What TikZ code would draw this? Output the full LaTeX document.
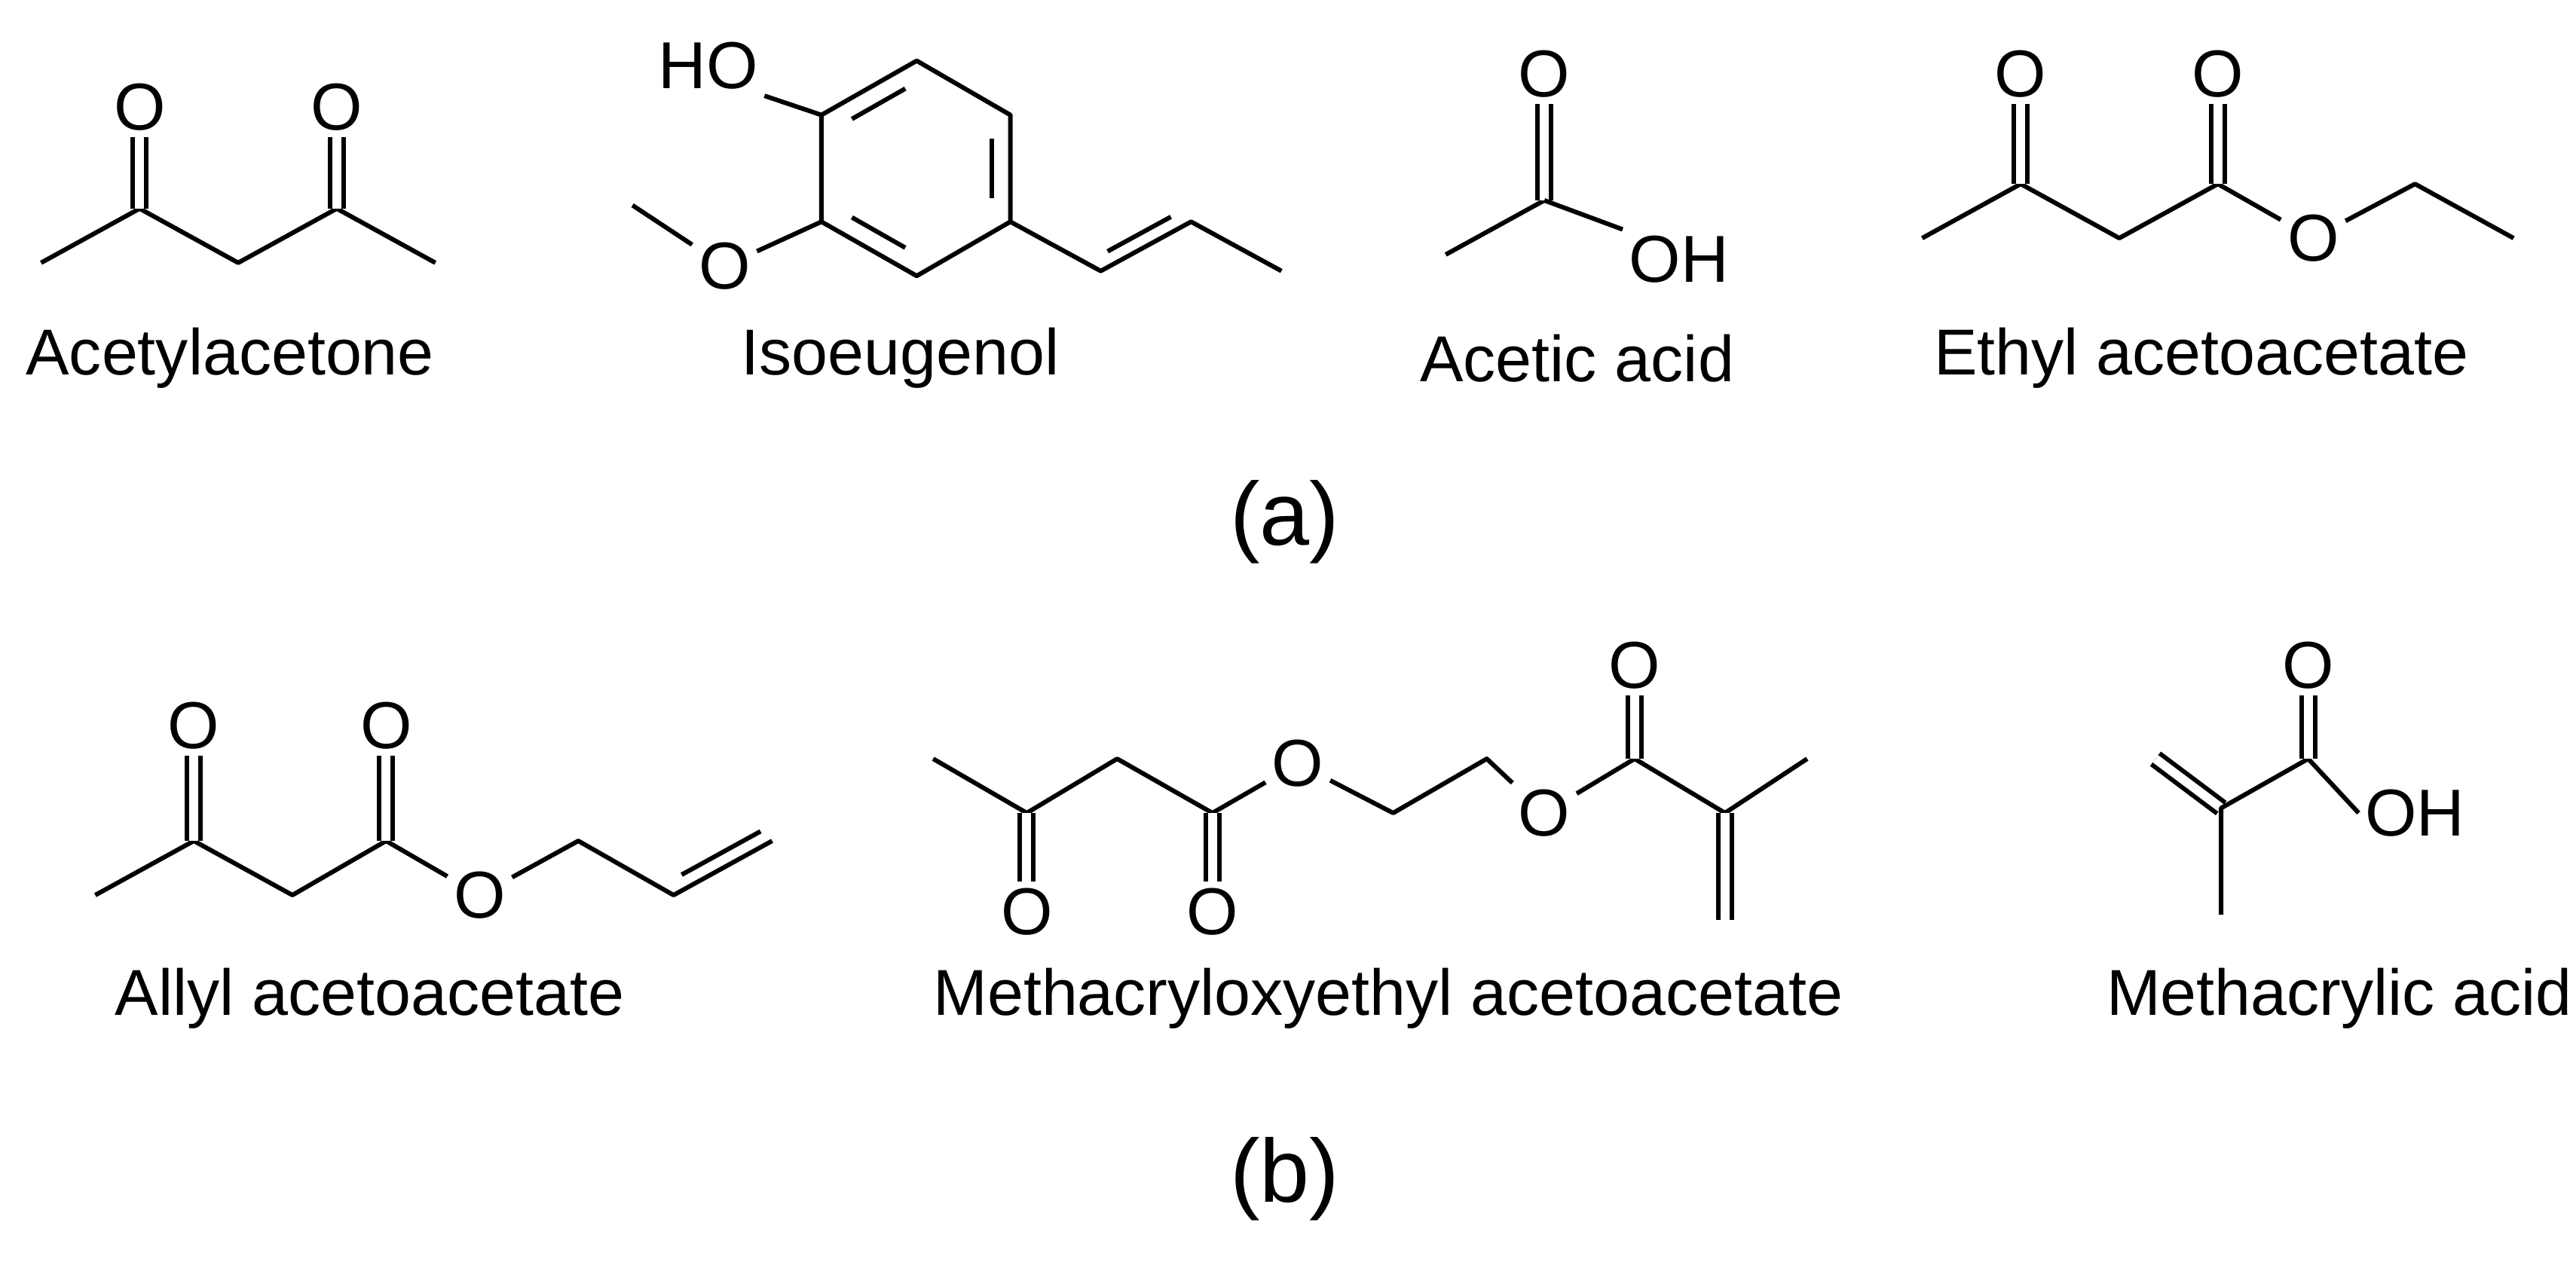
\documentclass[tikz,border=0pt]{standalone}
\usepackage{fontspec}
\setmainfont{Liberation Sans}
\usetikzlibrary{calc}
\begin{document}
\begin{tikzpicture}[x=0.2mm,y=-0.2mm,line width=0.55mm,
  atm/.style={inner sep=1.5pt,font=\fontsize{23}{25}\selectfont},
  nm/.style={font=\fontsize{22.5}{26}\selectfont},
  lab/.style={font=\fontsize{31}{35}\selectfont},
  dbl/.style={double,double distance=1.1mm}]
\useasboundingbox (0,0) rectangle (1568,770);
% Acetylacetone
\coordinate (a1) at (25,160); \coordinate (a2) at (85,127);
\coordinate (a3) at (145,160); \coordinate (a4) at (205,127);
\coordinate (a5) at (265,160);
\node[atm] (ao1) at (85,65) {O}; \node[atm] (ao2) at (205,65) {O};
\draw[line join=round] (a1)--(a2)--(a3)--(a4)--(a5);
\draw[dbl] (a2)--(ao1); \draw[dbl] (a4)--(ao2);
\node[nm] (n1) at (140,218) {Acetylacetone};
% Isoeugenol
\coordinate (r1) at (558,37); \coordinate (r2) at (615,70);
\coordinate (r3) at (615,135); \coordinate (r4) at (558,168);
\coordinate (r5) at (500,135); \coordinate (r6) at (500,70);
\coordinate (rc) at (558,102);
\draw[line join=round] (r1)--(r2)--(r3)--(r4)--(r5)--(r6)--cycle;
\draw ($($(r6)!.15!(r1)$)!.2!(rc)$)--($($(r6)!.85!(r1)$)!.2!(rc)$);
\draw ($($(r2)!.15!(r3)$)!.2!(rc)$)--($($(r2)!.85!(r3)$)!.2!(rc)$);
\draw ($($(r4)!.15!(r5)$)!.2!(rc)$)--($($(r4)!.85!(r5)$)!.2!(rc)$);
\node[atm] (iho) at (431,40) {HO};
\draw (r6)--(iho.south east);
\node[atm] (iom) at (441,162) {O};
\coordinate (ime) at (385,125);
\draw (r5)--(iom)--(ime);
\coordinate (c1) at (670,165); \coordinate (c2) at (725,135); \coordinate (c3) at (780,165);
\draw[line join=round] (r3)--(c1)--(c2)--(c3);
\draw ($($(c1)!.15!(c2)$)!1.7mm!90:(c2)$)--($($(c1)!.85!(c2)$)!1.7mm!90:(c2)$);
\node[nm] (n2) at (548,218) {Isoeugenol};
% Acetic acid
\coordinate (e1) at (880,155); \coordinate (e2) at (940,122);
\node[atm] (eo) at (940,45) {O}; \node[atm] (eoh) at (1022,158) {OH};
\draw (e1)--(e2); \draw[dbl] (e2)--(eo); \draw (e2)--(eoh.north west);
\node[nm] (n3) at (960,218) {Acetic acid};
% Ethyl acetoacetate
\coordinate (f1) at (1170,145); \coordinate (f2) at (1230,112);
\coordinate (f3) at (1290,145); \coordinate (f4) at (1350,112);
\node[atm] (fo3) at (1408,145) {O};
\coordinate (f6) at (1470,112); \coordinate (f7) at (1530,145);
\node[atm] (fo1) at (1230,45) {O}; \node[atm] (fo2) at (1350,45) {O};
\draw[line join=round] (f1)--(f2)--(f3)--(f4)--(fo3)--(f6)--(f7);
\draw[dbl] (f2)--(fo1); \draw[dbl] (f4)--(fo2);
\node[nm] (n4) at (1340,218) {Ethyl acetoacetate};
\node[lab] (la) at (782,318) {(a)};
% Allyl acetoacetate
\coordinate (g1) at (58,545); \coordinate (g2) at (118,512);
\coordinate (g3) at (178,545); \coordinate (g4) at (235,512);
\node[atm] (go3) at (292,545) {O};
\coordinate (g6) at (352,512); \coordinate (g7) at (410,545); \coordinate (g8) at (470,512);
\node[atm] (go1) at (118,442) {O}; \node[atm] (go2) at (235,442) {O};
\draw[line join=round] (g1)--(g2)--(g3)--(g4)--(go3)--(g6)--(g7)--(g8);
\draw ($($(g7)!.15!(g8)$)!1.7mm!90:(g8)$)--($($(g7)!.95!(g8)$)!1.7mm!90:(g8)$);
\draw[dbl] (g2)--(go1); \draw[dbl] (g4)--(go2);
\node[nm] (n5) at (225,608) {Allyl acetoacetate};
% Methacryloxyethyl acetoacetate
\coordinate (h1) at (568,462); \coordinate (h2) at (625,495);
\coordinate (h3) at (680,462); \coordinate (h4) at (738,495);
\node[atm] (ho1) at (790,465) {O};
\coordinate (h6) at (848,495); \coordinate (h7) at (905,462);
\node[atm] (ho2) at (940,495) {O};
\coordinate (h9) at (995,462); \coordinate (h10) at (1050,495);
\coordinate (h11) at (1100,462); \coordinate (h12) at (1050,560);
\node[atm] (hk1) at (625,555) {O}; \node[atm] (hk2) at (738,555) {O};
\node[atm] (hk3) at (995,405) {O};
\draw[line join=round] (h1)--(h2)--(h3)--(h4)--(ho1)--(h6)--(h7)--(ho2)--(h9)--(h10)--(h11);
\draw[dbl] (h2)--(hk1); \draw[dbl] (h4)--(hk2); \draw[dbl] (h9)--(hk3);
\draw[dbl] (h10)--(h12);
\node[nm] (n6) at (845,608) {Methacryloxyethyl acetoacetate};
% Methacrylic acid
\coordinate (m1) at (1312,462); \coordinate (m2) at (1352,492);
\coordinate (m3) at (1352,557); \coordinate (m4) at (1405,462);
\node[atm] (mo) at (1405,405) {O}; \node[atm] (moh) at (1470,495) {OH};
\draw[dbl] (m1)--(m2);
\draw[line join=round] (m3)--(m2)--(m4)--(moh.west);
\draw[dbl] (m4)--(mo);
\node[nm] (n7) at (1424,608) {Methacrylic acid};
\node[lab] (lb) at (782,718) {(b)};
\end{tikzpicture}
\end{document}
